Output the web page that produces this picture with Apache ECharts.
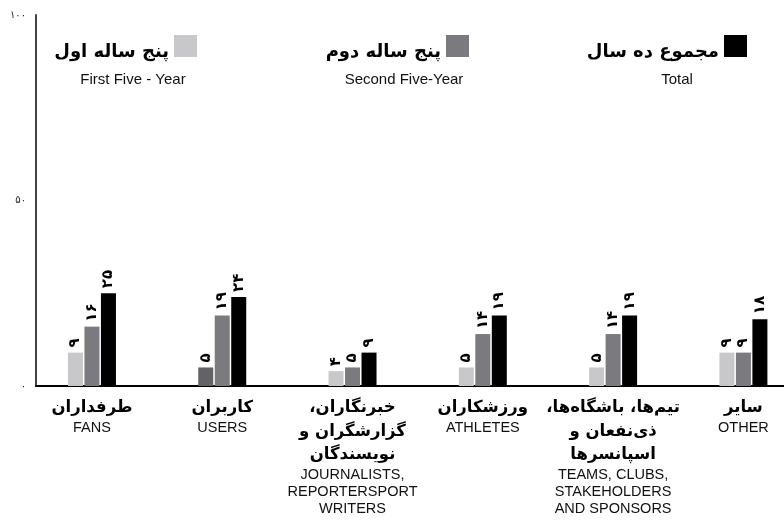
<!DOCTYPE html>
<html><head><meta charset="utf-8">
<script src="https://cdn.jsdelivr.net/npm/echarts@6/dist/echarts.min.js"></script>
<style>html,body{margin:0;padding:0;background:#fff}#c{width:784px;height:527px}</style>
</head><body><div id="c"></div>
<script>
// ---- data ----
const categoriesFa = [
  ['طرفداران'],
  ['کاربران'],
  ['خبرنگاران،', 'گزارشگران و', 'نویسندگان'],
  ['ورزشکاران'],
  ['تیم‌ها، باشگاه‌ها،', 'ذی‌نفعان و', 'اسپانسرها'],
  ['سایر']
];
const categoriesEn = [
  ['FANS'],
  ['USERS'],
  ['JOURNALISTS,', 'REPORTERSPORT', 'WRITERS'],
  ['ATHLETES'],
  ['TEAMS, CLUBS,', 'STAKEHOLDERS', 'AND SPONSORS'],
  ['OTHER']
];
const seriesNamesFa = ['پنج ساله اول', 'پنج ساله دوم', 'مجموع ده سال'];
const seriesNamesEn = ['First Five - Year', 'Second Five-Year', 'Total'];
const firstFive  = [9, 5, 4, 5, 5, 9];
const secondFive = [16, 19, 5, 14, 14, 9];
const total      = [25, 24, 9, 19, 19, 18];
const yMin = 0, yMax = 100, yStep = 50;

// ---- helpers ----
const faDigits = '۰۱۲۳۴۵۶۷۸۹';
const toFa = v => String(v).replace(/[0-9]/g, d => faDigits[+d]);
const rtl = s => '\u200F' + s + '\u200F';

const colors = ['#c8c8ca', '#7b7b7f', '#000000'];
const usersFirstColor = '#636365';
const catPos = categoriesFa.map((_, i) => i);
// category band layout mapped onto a value axis
const xMin = -0.4294, xMax = 5.3116;

const chart = echarts.init(document.getElementById('c'), null, {renderer: 'canvas'});

const seriesData = [firstFive, secondFive, total];
const series = seriesData.map((arr, si) => ({
  name: seriesNamesFa[si],
  type: 'bar',
  barWidth: 15,
  barGap: '10%',
  itemStyle: {color: colors[si]},
  data: arr.map((v, i) => (si === 0 && i === 1)
    ? {value: [catPos[i], v], itemStyle: {color: usersFirstColor}}
    : [catPos[i], v]),
  label: {
    show: true,
    position: 'top',
    rotate: 90,
    align: 'left',
    verticalAlign: 'middle',
    distance: 5,
    formatter: p => toFa(p.value[1]),
    fontFamily: 'DejaVu Sans',
    fontWeight: 'bold',
    fontSize: 15,
    color: '#000'
  }
}));

const legendRights = [587, 315, 37];
const enCenters = [133, 404, 677];

const option = {
  animation: false,
  backgroundColor: '#fff',
  grid: {left: 36, right: 0, top: 15, bottom: 141},
  legend: seriesNamesFa.map((n, i) => ({
    data: [n],
    right: legendRights[i],
    top: 35,
    padding: 0,
    align: 'right',
    icon: 'rect',
    itemWidth: 23,
    itemHeight: 22,
    selectedMode: false,
    formatter: name => '{t|' + name + '}',
    textStyle: {
      rich: {t: {fontFamily: 'DejaVu Sans', fontWeight: 'bold', fontSize: 18, color: '#000', padding: [12, 0, 0, 0]}}
    }
  })),
  graphic: seriesNamesEn.map((t, i) => ({
    type: 'text',
    x: enCenters[i],
    y: 80,
    style: {text: t, align: 'center', verticalAlign: 'middle', fontSize: 15, fontFamily: 'Liberation Sans', fill: '#111'}
  })),
  xAxis: {
    type: 'value', min: xMin, max: xMax,
    axisLine: {show: true, onZero: false, lineStyle: {color: '#000', width: 2}},
    axisTick: {show: false}, splitLine: {show: false},
    axisLabel: {
      customValues: catPos,
      margin: 10,
      formatter: (v) => {
        const i = Math.round(v);
        const fa = categoriesFa[i].map(s => '{fa|' + rtl(s) + '}');
        const en = categoriesEn[i].map(s => '{en|' + s + '}');
        return fa.concat(en).join('\n');
      },
      rich: {
        fa: {fontFamily: 'DejaVu Sans', fontWeight: 'bold', fontSize: 16.5, lineHeight: 23.5, color: '#000'},
        en: {fontFamily: 'Liberation Sans', fontSize: 14.5, lineHeight: 17, color: '#111'}
      }
    }
  },
  yAxis: {
    type: 'value', min: yMin, max: yMax, interval: yStep,
    axisLine: {show: true, onZero: false, lineStyle: {color: '#444', width: 2}},
    axisTick: {show: false}, splitLine: {show: false},
    axisLabel: {formatter: v => toFa(v), fontSize: 10, color: '#222', margin: 10, fontFamily: 'DejaVu Sans', padding: [4, 0, 0, 0]}
  },
  series: series
};
chart.setOption(option);
</script>
</body></html>
